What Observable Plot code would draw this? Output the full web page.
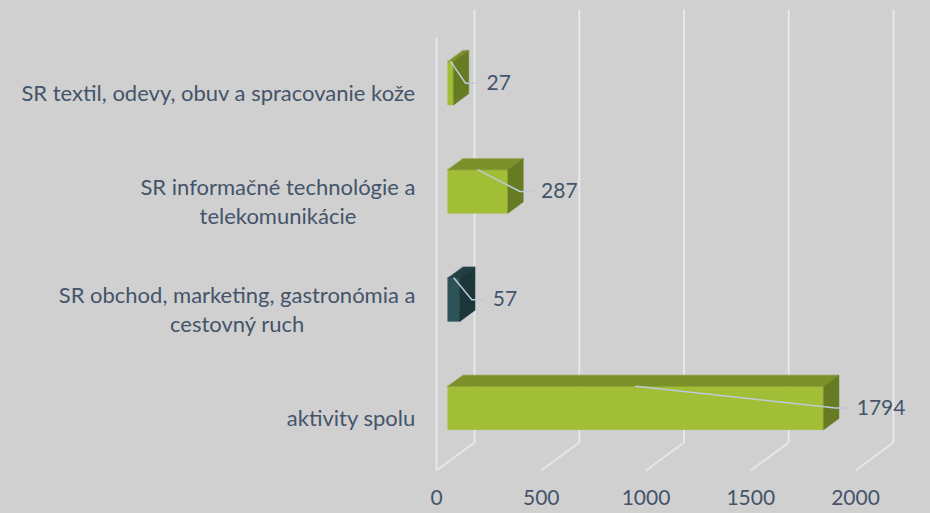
<!DOCTYPE html>
<html><head><meta charset="utf-8">
<script src="https://cdn.jsdelivr.net/npm/d3@7"></script>
<script src="https://cdn.jsdelivr.net/npm/@observablehq/plot@0.6"></script>
<style>
html,body{margin:0;padding:0;background:#d0d0d0;}
#chart{width:930px;height:513px;overflow:hidden;}
</style></head><body><div id="chart"></div>
<script>
// ---- data ----
const categories = [
  "SR textil, odevy, obuv a spracovanie kože",
  "SR informačné technológie a\ntelekomunikácie",
  "SR obchod, marketing, gastronómia a\ncestovný ruch",
  "aktivity spolu"
];
const values = [27, 287, 57, 1794];
const ticks = [0, 500, 1000, 1500, 2000];
const highlighted = "SR obchod, marketing, gastronómia a\ncestovný ruch";

// ---- styles / layout ----
const W = 930, H = 513;
const M = {left: 436, right: 75, top: 37, bottom: 43};
const xMax = 2000;
const kx = (W - M.left - M.right) / xMax;          // px per unit
const ky = (H - M.top - M.bottom) / categories.length; // px per band
const DEPTH_PX = {x: 38, y: 28};
const DX = DEPTH_PX.x / kx, DY = DEPTH_PX.y / ky;
const D0 = 0.3, D1 = 0.7;       // bar depth span
const B0 = 0.3, B1 = 0.7;       // bar band span
const FONT = "Lato";
const FS = 22;      // category labels
const FSN = 21;     // numbers
const TEXT = "#44546a";
const GRID = "#e4e7eb";
const LEADER = "#bccad9";
const pal = {
  normal: {front: "#a2bd36", top: "#7c9129", side: "#677b22"},
  hi: {front: "#2d5358", top: "#223f43", side: "#1d3639"}
};
const proj = (v, c, d) => ({x: v + d * DX, y: c - d * DY});

// bar faces as polygons in data space
const faces = [];
categories.forEach((cat, i) => {
  const v = values[i];
  const p = cat === highlighted ? pal.hi : pal.normal;
  const c0 = i + B0, c1 = i + B1;
  const poly = (name, pts, fill) => pts.forEach(q => faces.push({...q, face: i + name, fill}));
  poly("front", [proj(0, c0, D0), proj(v, c0, D0), proj(v, c1, D0), proj(0, c1, D0)], p.front);
  poly("top", [proj(0, c0, D0), proj(v, c0, D0), proj(v, c0, D1), proj(0, c0, D1)], p.top);
  poly("side", [proj(v, c0, D0), proj(v, c0, D1), proj(v, c1, D1), proj(v, c1, D0)], p.side);
});

// leader lines and label anchors
const LABEL_GAP = 33;
const leaders = [];
categories.forEach((cat, i) => {
  const v = values[i];
  const a = proj(v, i + 0.5, D0);
  const s = proj(v / 2, i + B0, D0);
  leaders.push({id: i, x: s.x, y: s.y});
  leaders.push({id: i, x: a.x + (LABEL_GAP - 21) / kx, y: a.y});
  leaders.push({id: i, x: a.x + (LABEL_GAP - 9) / kx, y: a.y});
});

// measure category label widths for centered multi-line blocks
const ctx = document.createElement("canvas").getContext("2d");
ctx.font = `${FS}px ${FONT}`;
const blockWidth = s => Math.max(...s.split("\n").map(l => ctx.measureText(l).width));

const catMarks = categories.map((cat, i) =>
  Plot.text([cat], {
    x: () => 0, y: () => i + 0.5, text: d => d,
    textAnchor: "middle", dx: -(21 + blockWidth(cat) / 2),
    lineHeight: 29 / FS, fill: TEXT, fontSize: FS
  })
);

const chart = Plot.plot({
  width: W, height: H,
  marginLeft: M.left, marginRight: M.right, marginTop: M.top, marginBottom: M.bottom,
  x: {domain: [0, xMax], axis: null},
  y: {domain: [0, categories.length], reverse: true, axis: null},
  color: {type: "identity"},
  style: {background: "transparent", fontFamily: FONT, fontSize: FS + "px", color: TEXT, overflow: "visible"},
  marks: [
    // back wall gridlines
    Plot.link(ticks, {
      x1: t => proj(t, 0, 1).x, y1: t => proj(t, 0, 1).y,
      x2: t => proj(t, categories.length, 1).x, y2: t => proj(t, categories.length, 1).y,
      stroke: GRID, strokeWidth: 2
    }),
    // floor gridlines
    Plot.link(ticks, {
      x1: t => proj(t, categories.length, 0).x, y1: t => proj(t, categories.length, 0).y,
      x2: t => proj(t, categories.length, 1).x, y2: t => proj(t, categories.length, 1).y,
      stroke: GRID, strokeWidth: 2
    }),
    // side wall front edge
    Plot.link([0], {
      x1: t => proj(t, 0, 0).x, y1: t => proj(t, 0, 0).y,
      x2: t => proj(t, categories.length, 0).x, y2: t => proj(t, categories.length, 0).y,
      stroke: GRID, strokeWidth: 2
    }),
    // bars
    Plot.line(faces, {x: "x", y: "y", z: "face", fill: "fill", stroke: "fill", strokeWidth: 0.5, curve: "linear-closed"}),
    // leader lines
    Plot.line(leaders, {x: "x", y: "y", z: "id", stroke: LEADER, strokeWidth: 1.5, curve: "linear"}),
    // value labels
    Plot.text(values, {
      x: (v) => proj(v, 0, D0).x, y: (v, i) => proj(v, i + 0.5, D0).y,
      text: v => String(v), dx: LABEL_GAP, textAnchor: "start", fill: TEXT, fontSize: FSN
    }),
    // tick labels
    Plot.text(ticks, {
      x: t => t, y: () => categories.length, text: t => String(t),
      dy: 28, textAnchor: "middle", fill: TEXT, fontSize: FSN
    }),
    ...catMarks
  ]
});
document.getElementById("chart").appendChild(chart);
</script>
</body></html>
